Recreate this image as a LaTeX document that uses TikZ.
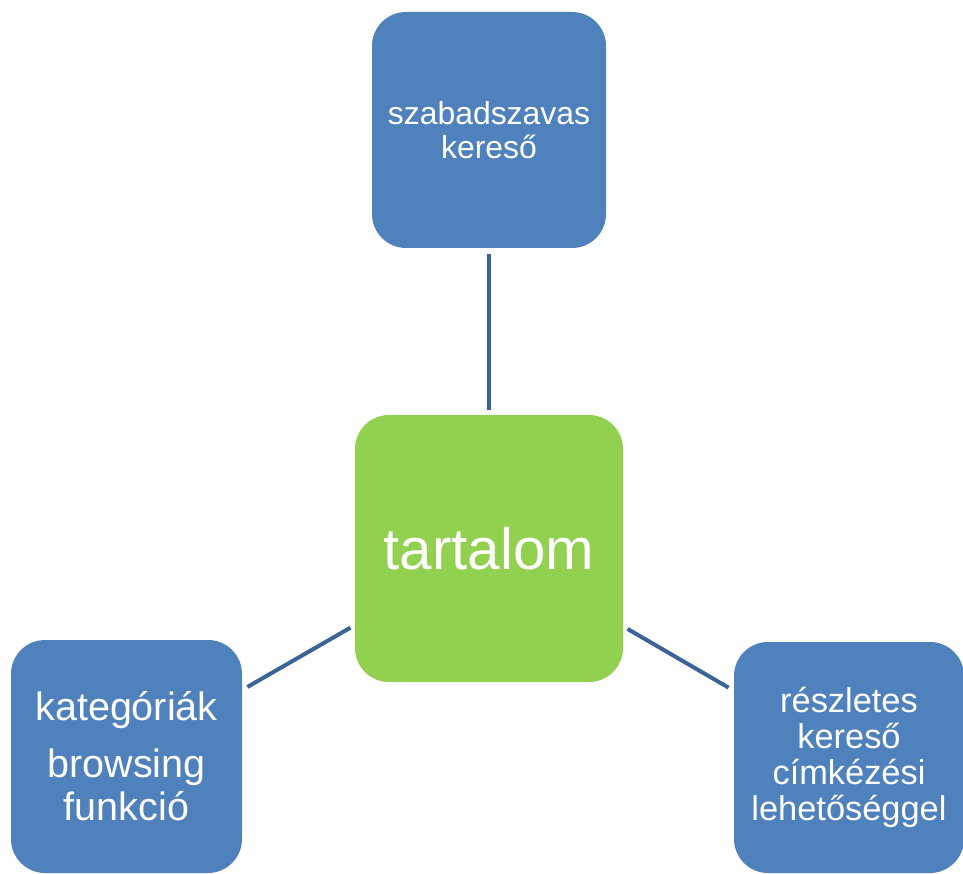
\documentclass[tikz,border=0pt]{standalone}
\usepackage{fontspec}
\setmainfont{Liberation Sans}
\definecolor{boxblue}{HTML}{4F81BD}
\definecolor{boxgreen}{HTML}{92D050}
\definecolor{linkblue}{HTML}{3B6396}
\begin{document}
\begin{tikzpicture}[x=1pt,y=-1pt,
  box/.style={rounded corners=34pt, inner sep=0pt, text=white, align=center},
  bluebox/.style={box, fill=boxblue},
  greenbox/.style={box, fill=boxgreen},
  link/.style={draw=linkblue, line width=4pt, shorten <=6pt, shorten >=5pt}]
\useasboundingbox (0,0) rectangle (963,874);
\node[bluebox, minimum width=234pt, minimum height=236pt,
  font=\fontsize{31.9}{34}\selectfont] (top) at (489,130) {szabadszavas\\kereső};
\node[greenbox, minimum width=268pt, minimum height=267pt,
  font=\fontsize{58.3}{60}\selectfont] (center) at (489,548.5) {tartalom};
\node[bluebox, minimum width=231pt, minimum height=233pt,
  font=\fontsize{39.5}{43}\selectfont] (left) at (126.5,756.5) {kategóriák\\[14pt]browsing\\funkció};
\node[bluebox, minimum width=230pt, minimum height=231pt,
  font=\fontsize{34.4}{35.8}\selectfont] (right) at (849,757.5) {részletes\\kereső\\címkézési\\lehetőséggel};
\draw[link] (top) -- (center);
\draw[link] (left) -- (center);
\draw[link] (right) -- (center);
\end{tikzpicture}
\end{document}
